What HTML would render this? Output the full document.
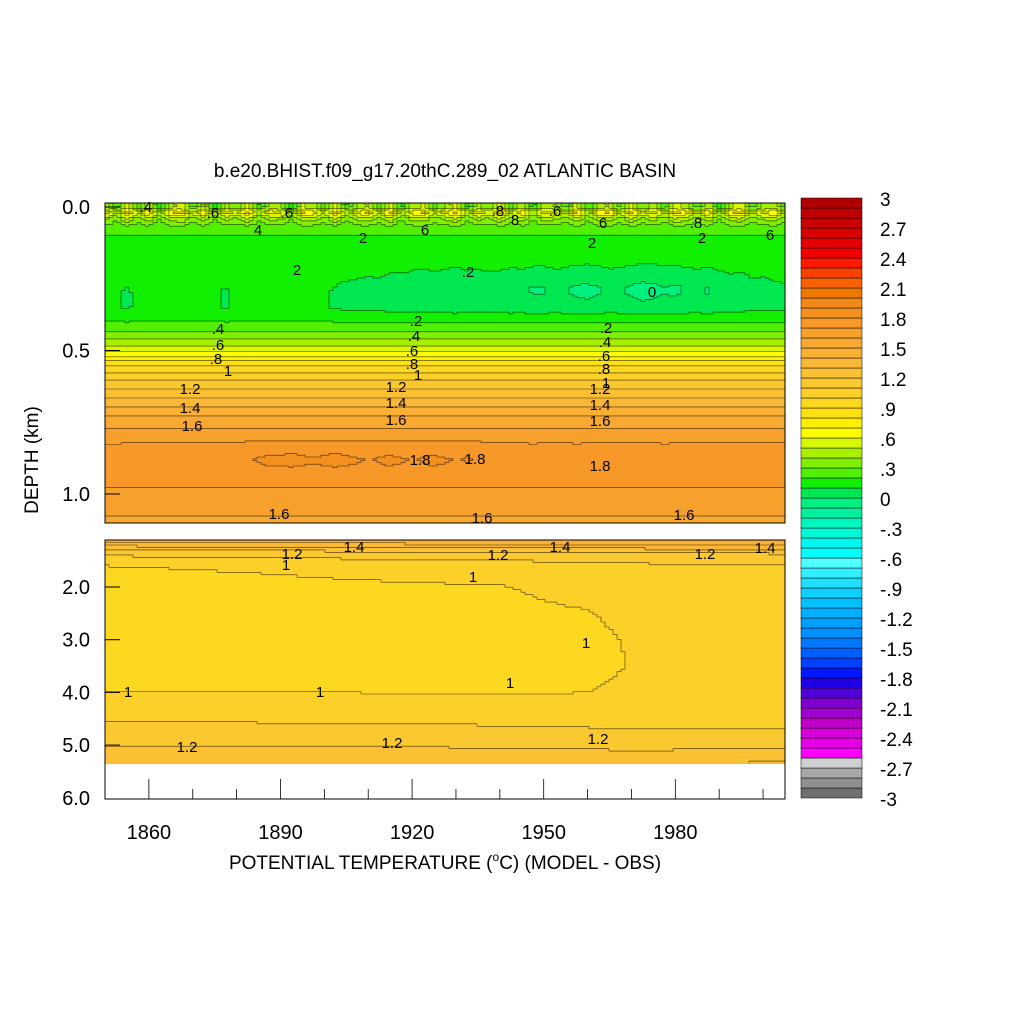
<!DOCTYPE html>
<html><head><meta charset="utf-8"><style>
body{margin:0;background:#fff;}
svg text{font-family:"Liberation Sans",sans-serif;fill:#000;}
</style></head><body>
<svg id="chart" width="1024" height="1024" viewBox="0 0 1024 1024" xmlns="http://www.w3.org/2000/svg">
<rect width="1024" height="1024" fill="#fff"/>
<text x="445" y="177" font-size="19" text-anchor="middle">b.e20.BHIST.f09_g17.20thC.289_02 ATLANTIC BASIN</text>
<g id="topCells"></g>
<g id="botCells"></g>
<g id="lines"></g>
<g id="labels"></g>
<g id="axes"></g>
<g id="cbar"></g>
<text transform="translate(38,460) rotate(-90)" font-size="19" text-anchor="middle">DEPTH (km)</text>
<text x="445" y="869" font-size="19" text-anchor="middle">POTENTIAL TEMPERATURE (<tspan font-size="12" dy="-8">o</tspan><tspan dy="8">C) (MODEL - OBS)</tspan></text>
</svg>
<script>
// ---- data ----
const years = [];
for (let y = 1850; y <= 2005; y += 2.5) years.push(y);
const topDepths  = [0, 0.02, 0.04, 0.07, 0.1, 0.15, 0.2, 0.25, 0.3, 0.35, 0.4, 0.45, 0.5, 0.55, 0.6, 0.65, 0.7, 0.75, 0.8, 0.85, 0.9, 0.95, 1.0, 1.05, 1.11];
const topProfile = [0.35, 0.6, 0.4, 0.25, 0.2, 0.18, 0.16, 0.14, 0.1, 0.1, 0.2, 0.35, 0.58, 0.88, 1.08, 1.26, 1.42, 1.56, 1.66, 1.74, 1.75, 1.72, 1.68, 1.63, 1.56];
const surfAnom = [0.1,-0.15,0.2,-0.1,0.15,-0.2,0.1,0.2,-0.1,0.15,-0.2,0.1,-0.05,0.2,-0.15,0.1,0.05,-0.2,0.15,0.1,-0.1,0.2,-0.15,0.05,0.15,-0.1,0.2,-0.2,0.1,0.15,-0.1,0.05,0.2,-0.15,0.1,-0.05,0.2,-0.1,0.15,-0.2,0.1,0.05,-0.1,0.2,-0.15,0.1,0.15,-0.1,0.2,-0.05,0.1,-0.15,0.2,0.1,-0.1,0.15,-0.2,0.1,0.2,-0.1,0.05,0.15,-0.1];
const midAnom  = [0,0.02,-0.02,0.03,0,0.04,0.02,0,0.03,0.05,0.02,-0.02,0.05,0.03,0,0.04,0.06,0.02,0,0.03,0.01,-0.02,-0.04,-0.05,-0.06,-0.05,-0.08,-0.07,-0.09,-0.1,-0.08,-0.1,-0.11,-0.09,-0.1,-0.08,-0.09,-0.11,-0.1,-0.12,-0.12,-0.1,-0.11,-0.13,-0.14,-0.12,-0.1,-0.11,-0.13,-0.15,-0.14,-0.12,-0.13,-0.11,-0.1,-0.12,-0.09,-0.07,-0.08,-0.05,-0.06,-0.04,-0.03];
const deepAnom = [0,0,0.01,0.02,0.03,0.04,0.03,0.02,0.03,0.02,0.01,0.02,0.03,0.05,0.06,0.07,0.07,0.08,0.07,0.06,0.07,0.08,0.07,0.06,0.05,0.06,0.07,0.06,0.05,0.06,0.07,0.06,0.05,0.06,0.05,0.04,0.03,0.02,0.01,0,0.01,0.02,0.01,0,0.01,0.02,0.03,0.02,0.01,0.02,0.01,0,0.01,0.02,0.03,0.04,0.03,0.02,0.03,0.02,0.01,0.02,0.03];
const botYears = [1850, 1900, 1940, 1960, 1975, 2005];
const botDepths = [1.11, 1.2, 1.35, 1.6, 2.0, 2.5, 3.0, 3.5, 4.0, 4.5, 5.0, 5.35];
const botGrid = [
 [1.5,1.5,1.5,1.5,1.5,1.5],
 [1.33,1.36,1.38,1.38,1.4,1.42],
 [1.13,1.16,1.18,1.18,1.2,1.21],
 [1.0,1.02,1.05,1.06,1.08,1.08],
 [0.95,0.985,0.995,1.03,1.05,1.06],
 [0.97,0.98,0.98,0.995,1.04,1.05],
 [0.97,0.97,0.97,0.98,1.02,1.04],
 [0.98,0.98,0.98,0.985,1.01,1.04],
 [1.0,1.0,0.995,1.0,1.02,1.04],
 [1.09,1.08,1.07,1.06,1.06,1.05],
 [1.2,1.2,1.19,1.18,1.17,1.17],
 [1.25,1.25,1.25,1.26,1.28,1.32]
];
const cbarTicks = ["3","2.7","2.4","2.1","1.8","1.5","1.2",".9",".6",".3","0","-.3","-.6","-.9","-1.2","-1.5","-1.8","-2.1","-2.4","-2.7","-3"];
// palette from -3 (index 0) to 3 (index 59)
const palette = ["#707070","#909090","#a8a8a8","#d0d0d0","#ff00ff","#e800e8","#d800d8","#c000c8","#a000d0","#8000d0","#5000d8","#2000e8","#0018ff","#0040ff","#0060ff","#0078ff","#0090ff","#00a0ff","#00b0ff","#00c0ff","#10d0ff","#20e0ff","#30f0ff","#50ffff","#00ffff","#00f8f0","#00f8d8","#00f8c0","#00f0a0","#00f080","#00e850","#10f000","#50f000","#80f000","#a8f000","#d8f800","#ffff00","#fff000","#ffe010","#fdd820","#fcd028","#fcc830","#fbc034","#fbb836","#fab034","#f9a830","#f8a02c","#f79828","#f49020","#f28818","#f07800","#f86000","#fa4000","#ff1800","#f00000","#e40000","#d80000","#cc0000","#c00000","#b00000"];

// ---- scales ----
const X0 = 105, X1 = 785, Y0 = 1850, Y1 = 2005;
const xs = y => X0 + (y - Y0) / (Y1 - Y0) * (X1 - X0);
const yTop = d => 207 + d * 287;
const yBot = d => 587 + (d - 2) * 52.7;
const NS = "http://www.w3.org/2000/svg";
function mk(tag, attrs, parent) { const e = document.createElementNS(NS, tag); for (const k in attrs) e.setAttribute(k, attrs[k]); parent.appendChild(e); return e; }
function interp(xa, ya, x) {
  if (x <= xa[0]) return ya[0];
  for (let i = 1; i < xa.length; i++) if (x <= xa[i]) { const t = (x - xa[i-1]) / (xa[i] - xa[i-1]); return ya[i-1] + t * (ya[i] - ya[i-1]); }
  return ya[ya.length - 1];
}
const lvl = v => Math.max(0, Math.min(59, Math.floor((v + 3) / 0.1 + 1e-9)));
function topVal(yr, d) {
  const p = interp(topDepths, topProfile, d);
  const ws = Math.max(0, 1 - d / 0.08);
  const wm = Math.max(0, 1 - Math.abs(d - 0.28) / 0.14);
  const wd = Math.max(0, 1 - Math.abs(d - 0.88) / 0.08);
  return p + interp(years, surfAnom, yr) * ws + interp(years, midAnom, yr) * wm + interp(years, deepAnom, yr) * wd;
}
function botVal(yr, d) {
  const col = botGrid.map(r => interp(botYears, r, yr));
  return interp(botDepths, col, d);
}
function drawField(g, fn, d0, d1, nd, ysc, yPix0, yPix1) {
  const nx = 170, dx = (Y1 - Y0) / nx, dd = (d1 - d0) / nd;
  const L = [];
  for (let j = 0; j < nd; j++) { const row = []; for (let i = 0; i < nx; i++) row.push(lvl(fn(Y0 + (i + 0.5) * dx, d0 + (j + 0.5) * dd))); L.push(row); }
  for (let j = 0; j < nd; j++) {
    let i = 0;
    while (i < nx) {
      let k = i; while (k + 1 < nx && L[j][k+1] === L[j][i]) k++;
      const ya = Math.max(yPix0, ysc(d0 + j * dd)), yb = Math.min(yPix1, ysc(d0 + (j + 1) * dd));
      const r = mk('rect', {x: xs(Y0 + i * dx).toFixed(2), y: ya.toFixed(2), width: (xs(Y0 + (k + 1) * dx) - xs(Y0 + i * dx) + 0.5).toFixed(2), height: (yb - ya + 0.5).toFixed(2), fill: palette[L[j][i]]}, g);
      
      
      i = k + 1;
    }
  }
  let p = "";
  for (let j = 0; j < nd; j++) for (let i = 0; i < nx; i++) {
    const xa = xs(Y0 + i * dx), xb = xs(Y0 + (i + 1) * dx), ya = ysc(d0 + j * dd), yb = ysc(d0 + (j + 1) * dd);
    if (j + 1 < nd && L[j+1][i] !== L[j][i]) p += `M${xa.toFixed(1)} ${yb.toFixed(1)}H${xb.toFixed(1)}`;
    if (i + 1 < nx && L[j][i+1] !== L[j][i]) p += `M${xb.toFixed(1)} ${ya.toFixed(1)}V${yb.toFixed(1)}`;
  }
  const path = mk('path', {d: p, stroke: '#000', 'stroke-width': 0.6, fill: 'none', 'stroke-opacity': 0.75}, document.getElementById('lines'));
  
  
}
drawField(document.getElementById('topCells'), topVal, -0.014, 1.108, 180, yTop, 203, 523);
drawField(document.getElementById('botCells'), botVal, 1.108, 5.35, 90, yBot, 540, 764);

// contour labels
const lab = document.getElementById('labels');
const labs = [[146,212,".4"],[213,218,".6"],[287,218,".6"],[258,235,"4"],[425,235,"6"],[498,216,".8"],[515,225,"8"],[555,216,".6"],[603,228,"6"],[696,228,".8"],[702,243,"2"],[770,240,"6"],[363,243,"2"],[297,275,"2"],[468,277,".2"],[652,297,"0"],[592,248,"2"],
 [218,334,".4"],[218,350,".6"],[216,364,".8"],[228,376,"1"],[190,394,"1.2"],[190,413,"1.4"],[192,431,"1.6"],
 [416,326,".2"],[414,341,".4"],[412,356,".6"],[412,369,".8"],[418,380,"1"],[396,392,"1.2"],[396,408,"1.4"],[396,425,"1.6"],
 [606,333,".2"],[605,347,".4"],[604,361,".6"],[604,374,".8"],[606,388,"1"],[600,394,"1.2"],[600,410,"1.4"],[600,426,"1.6"],
 [420,465,"1.8"],[475,464,"1.8"],[600,471,"1.8"],[279,519,"1.6"],[482,523,"1.6"],[684,520,"1.6"],
 [292,559,"1.2"],[354,552,"1.4"],[498,560,"1.2"],[560,552,"1.4"],[705,559,"1.2"],[765,553,"1.4"],[286,570,"1"],[473,582,"1"],[586,648,"1"],[128,697,"1"],[320,697,"1"],[510,688,"1"],[187,752,"1.2"],[392,748,"1.2"],[598,744,"1.2"]];
for (const [x, y, t] of labs) {
  const e = mk('text', {x, y, 'font-size': 15, 'text-anchor': 'middle'}, lab);
  e.textContent = t;
  
  
}

// axes
const ax = document.getElementById('axes');
mk('rect', {x: 105, y: 203, width: 680, height: 320, fill: 'none', stroke: '#000', 'stroke-width': 1}, ax);
mk('rect', {x: 105, y: 540, width: 680, height: 259, fill: 'none', stroke: '#000', 'stroke-width': 1}, ax);
const topTicks = [0, 0.5, 1.0], topTickLab = ["0.0", "0.5", "1.0"];
topTicks.forEach((d, i) => {
  mk('line', {x1: 105, x2: 120, y1: yTop(d), y2: yTop(d), stroke: '#000'}, ax);
  const t = mk('text', {x: 90, y: yTop(d) + 7, 'font-size': 20, 'text-anchor': 'end'}, ax); t.textContent = topTickLab[i];
   
});
const botTicks = [2, 3, 4, 5, 6], botTickLab = ["2.0", "3.0", "4.0", "5.0", "6.0"];
botTicks.forEach((d, i) => {
  if (d < 6) mk('line', {x1: 105, x2: 120, y1: yBot(d), y2: yBot(d), stroke: '#000'}, ax);
  const t = mk('text', {x: 90, y: yBot(d) + 7, 'font-size': 20, 'text-anchor': 'end'}, ax); t.textContent = botTickLab[i];
   
});
for (let y = 1860; y <= 2000; y += 10) {
  const major = (y - 1860) % 30 === 0;
  mk('line', {x1: xs(y), x2: xs(y), y1: 799, y2: major ? 779 : 789, stroke: '#000', 'stroke-width': 0.8}, ax);
  if (major) { const t = mk('text', {x: xs(y), y: 839, 'font-size': 20, 'text-anchor': 'middle'}, ax); t.textContent = y;
      }
}
// colorbar
const cb = document.getElementById('cbar');
const cbTop = 198, cbH = 600, bh = cbH / 60;
for (let i = 0; i < 60; i++) {
  const r = mk('rect', {x: 801, y: (cbTop + (59 - i) * bh).toFixed(2), width: 61, height: bh.toFixed(2), fill: palette[i], stroke: '#000', 'stroke-width': 0.5}, cb);
  
  
}
cbarTicks.forEach((s, i) => {
  const t = mk('text', {x: 880, y: cbTop + i * 30 + 8, 'font-size': 19}, cb); t.textContent = s;
   
});
</script>
</body></html>
